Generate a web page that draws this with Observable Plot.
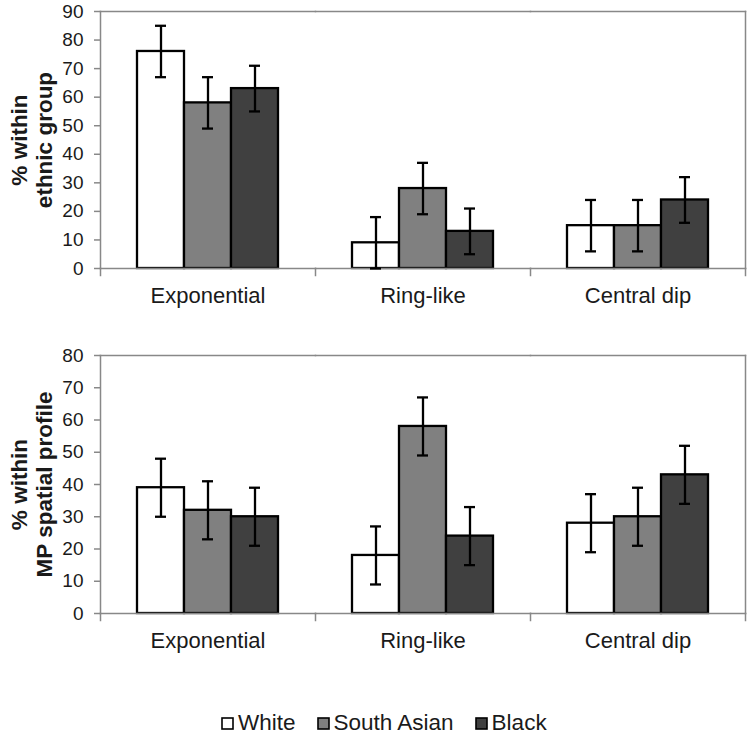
<!DOCTYPE html>
<html>
<head>
<meta charset="utf-8">
<script src="https://cdn.jsdelivr.net/npm/d3@7"></script>
<script src="https://cdn.jsdelivr.net/npm/@observablehq/plot@0.6"></script>
<style>
  body { margin: 0; background: #fff; font-family: "Liberation Sans", Arial, sans-serif; }
  #chart svg { display: block; }
  #legend { margin-top: 54px; padding-left: 222px; }
  #legend .lg-swatches { justify-content: flex-start; font-size: 22.5px !important; line-height: 1 !important; min-height: 0 !important; color: #1a1a1a; margin: 0 !important; }
  #legend .lg-swatch { margin-right: 22px !important; line-height: 1 !important; }
  #legend .lg-swatch > svg { margin-right: 5px !important; overflow: visible; }
  #legend .lg-swatch > svg rect { stroke: #000; stroke-width: 1.6px; }
</style>
</head>
<body>
<div id="chart"></div>
<div id="legend"></div>
<script>
// ---- data ----
const categories = ["Exponential", "Ring-like", "Central dip"];
const groups = ["White", "South Asian", "Black"];
const groupColors = ["#ffffff", "#808080", "#404040"];

// Panel 1: % within ethnic group
const ethnicWhite      = [76, 9, 15];
const ethnicSouthAsian = [58, 28, 15];
const ethnicBlack      = [63, 13, 24];
const ethnicErrWhite      = [9, 9, 9];
const ethnicErrSouthAsian = [9, 9, 9];
const ethnicErrBlack      = [8, 8, 8];
const ethnicTicks = [0, 10, 20, 30, 40, 50, 60, 70, 80, 90];
const ethnicTitle = "% within\nethnic group";

// Panel 2: % within MP spatial profile
const profileWhite      = [39, 18, 28];
const profileSouthAsian = [32, 58, 30];
const profileBlack      = [30, 24, 43];
const profileErrWhite      = [9, 9, 9];
const profileErrSouthAsian = [9, 9, 9];
const profileErrBlack      = [9, 9, 9];
const profileTicks = [0, 10, 20, 30, 40, 50, 60, 70, 80];
const profileTitle = "% within\nMP spatial profile";

function buildRows(seriesValues, seriesErrors) {
  const out = [];
  categories.forEach((c, i) => {
    groups.forEach((g, j) => {
      out.push({category: c, group: g, value: seriesValues[j][i], err: seriesErrors[j][i]});
    });
  });
  return out;
}

const FONT = "'Liberation Sans', Arial, sans-serif";
const GRAY = "#888888";
const INK = "#1a1a1a";

function panel({data, ticks, title, height, marginTop, marginBottom}) {
  const plotH = height - marginTop - marginBottom;
  return Plot.plot({
    width: 750,
    height,
    marginTop,
    marginBottom,
    marginLeft: 99,
    marginRight: 4,
    style: {fontFamily: FONT, fontSize: "19px", background: "#fff"},
    fx: {domain: categories, padding: 0},
    x: {domain: groups, paddingInner: 0, paddingOuter: 0.75, axis: null},
    y: {domain: [ticks[0], ticks[ticks.length - 1]]},
    color: {domain: groups, range: groupColors},
    marks: [
      // plot border & axis lines
      Plot.frame({anchor: "top", stroke: GRAY, strokeWidth: 1.5}),
      Plot.frame({anchor: "left", facetAnchor: "left", stroke: GRAY, strokeWidth: 1.5}),
      Plot.frame({anchor: "right", facetAnchor: "right", stroke: GRAY, strokeWidth: 1.5}),
      // category boundary ticks
      Plot.frame({anchor: "left", insetTop: plotH, insetBottom: -7, stroke: GRAY, strokeWidth: 1.5}),
      Plot.frame({anchor: "right", facetAnchor: "right", insetTop: plotH, insetBottom: -7, stroke: GRAY, strokeWidth: 1.5}),
      Plot.axisY({
        anchor: "left", ticks, tickSize: 6, tickPadding: 11, label: null,
        stroke: GRAY, strokeWidth: 1.5, fill: INK, fontSize: 19
      }),
      Plot.axisFx({
        anchor: "bottom", tickSize: 0, tickPadding: 19, label: null,
        fill: INK, fontSize: 22
      }),
      Plot.barY(data, {
        fx: "category", x: "group", y: "value", fill: "group",
        stroke: "#000", strokeWidth: 2.3
      }),
      Plot.frame({anchor: "bottom", stroke: GRAY, strokeWidth: 1.5}),
      Plot.ruleX(data, {
        fx: "category", x: "group",
        y1: d => d.value - d.err, y2: d => d.value + d.err,
        stroke: "#000", strokeWidth: 2.3
      }),
      Plot.tickY(data, {
        fx: "category", x: "group", y: d => d.value + d.err,
        insetLeft: 18, insetRight: 18, stroke: "#000", strokeWidth: 2.3
      }),
      Plot.tickY(data, {
        fx: "category", x: "group", y: d => d.value - d.err,
        insetLeft: 18, insetRight: 18, stroke: "#000", strokeWidth: 2.3
      }),
      Plot.text([title], {
        text: d => d, frameAnchor: "left", facetAnchor: "left",
        rotate: -90, textAnchor: "middle", lineAnchor: "top",
        dx: -91, fontSize: 22.5, fontWeight: "bold", lineHeight: 1.1, fill: INK
      })
    ]
  });
}

const chart = document.getElementById("chart");
chart.append(panel({
  data: buildRows([ethnicWhite, ethnicSouthAsian, ethnicBlack],
                  [ethnicErrWhite, ethnicErrSouthAsian, ethnicErrBlack]),
  ticks: ethnicTicks, title: ethnicTitle,
  height: 320, marginTop: 11, marginBottom: 52
}));
chart.append(panel({
  data: buildRows([profileWhite, profileSouthAsian, profileBlack],
                  [profileErrWhite, profileErrSouthAsian, profileErrBlack]),
  ticks: profileTicks, title: profileTitle,
  height: 338, marginTop: 35, marginBottom: 45
}));

document.getElementById("legend").append(Plot.legend({
  color: {domain: groups, range: groupColors},
  legend: "swatches",
  swatchSize: 11,
  className: "lg",
  style: {fontFamily: FONT, fontSize: "22.5px"}
}));
</script>
</body>
</html>
